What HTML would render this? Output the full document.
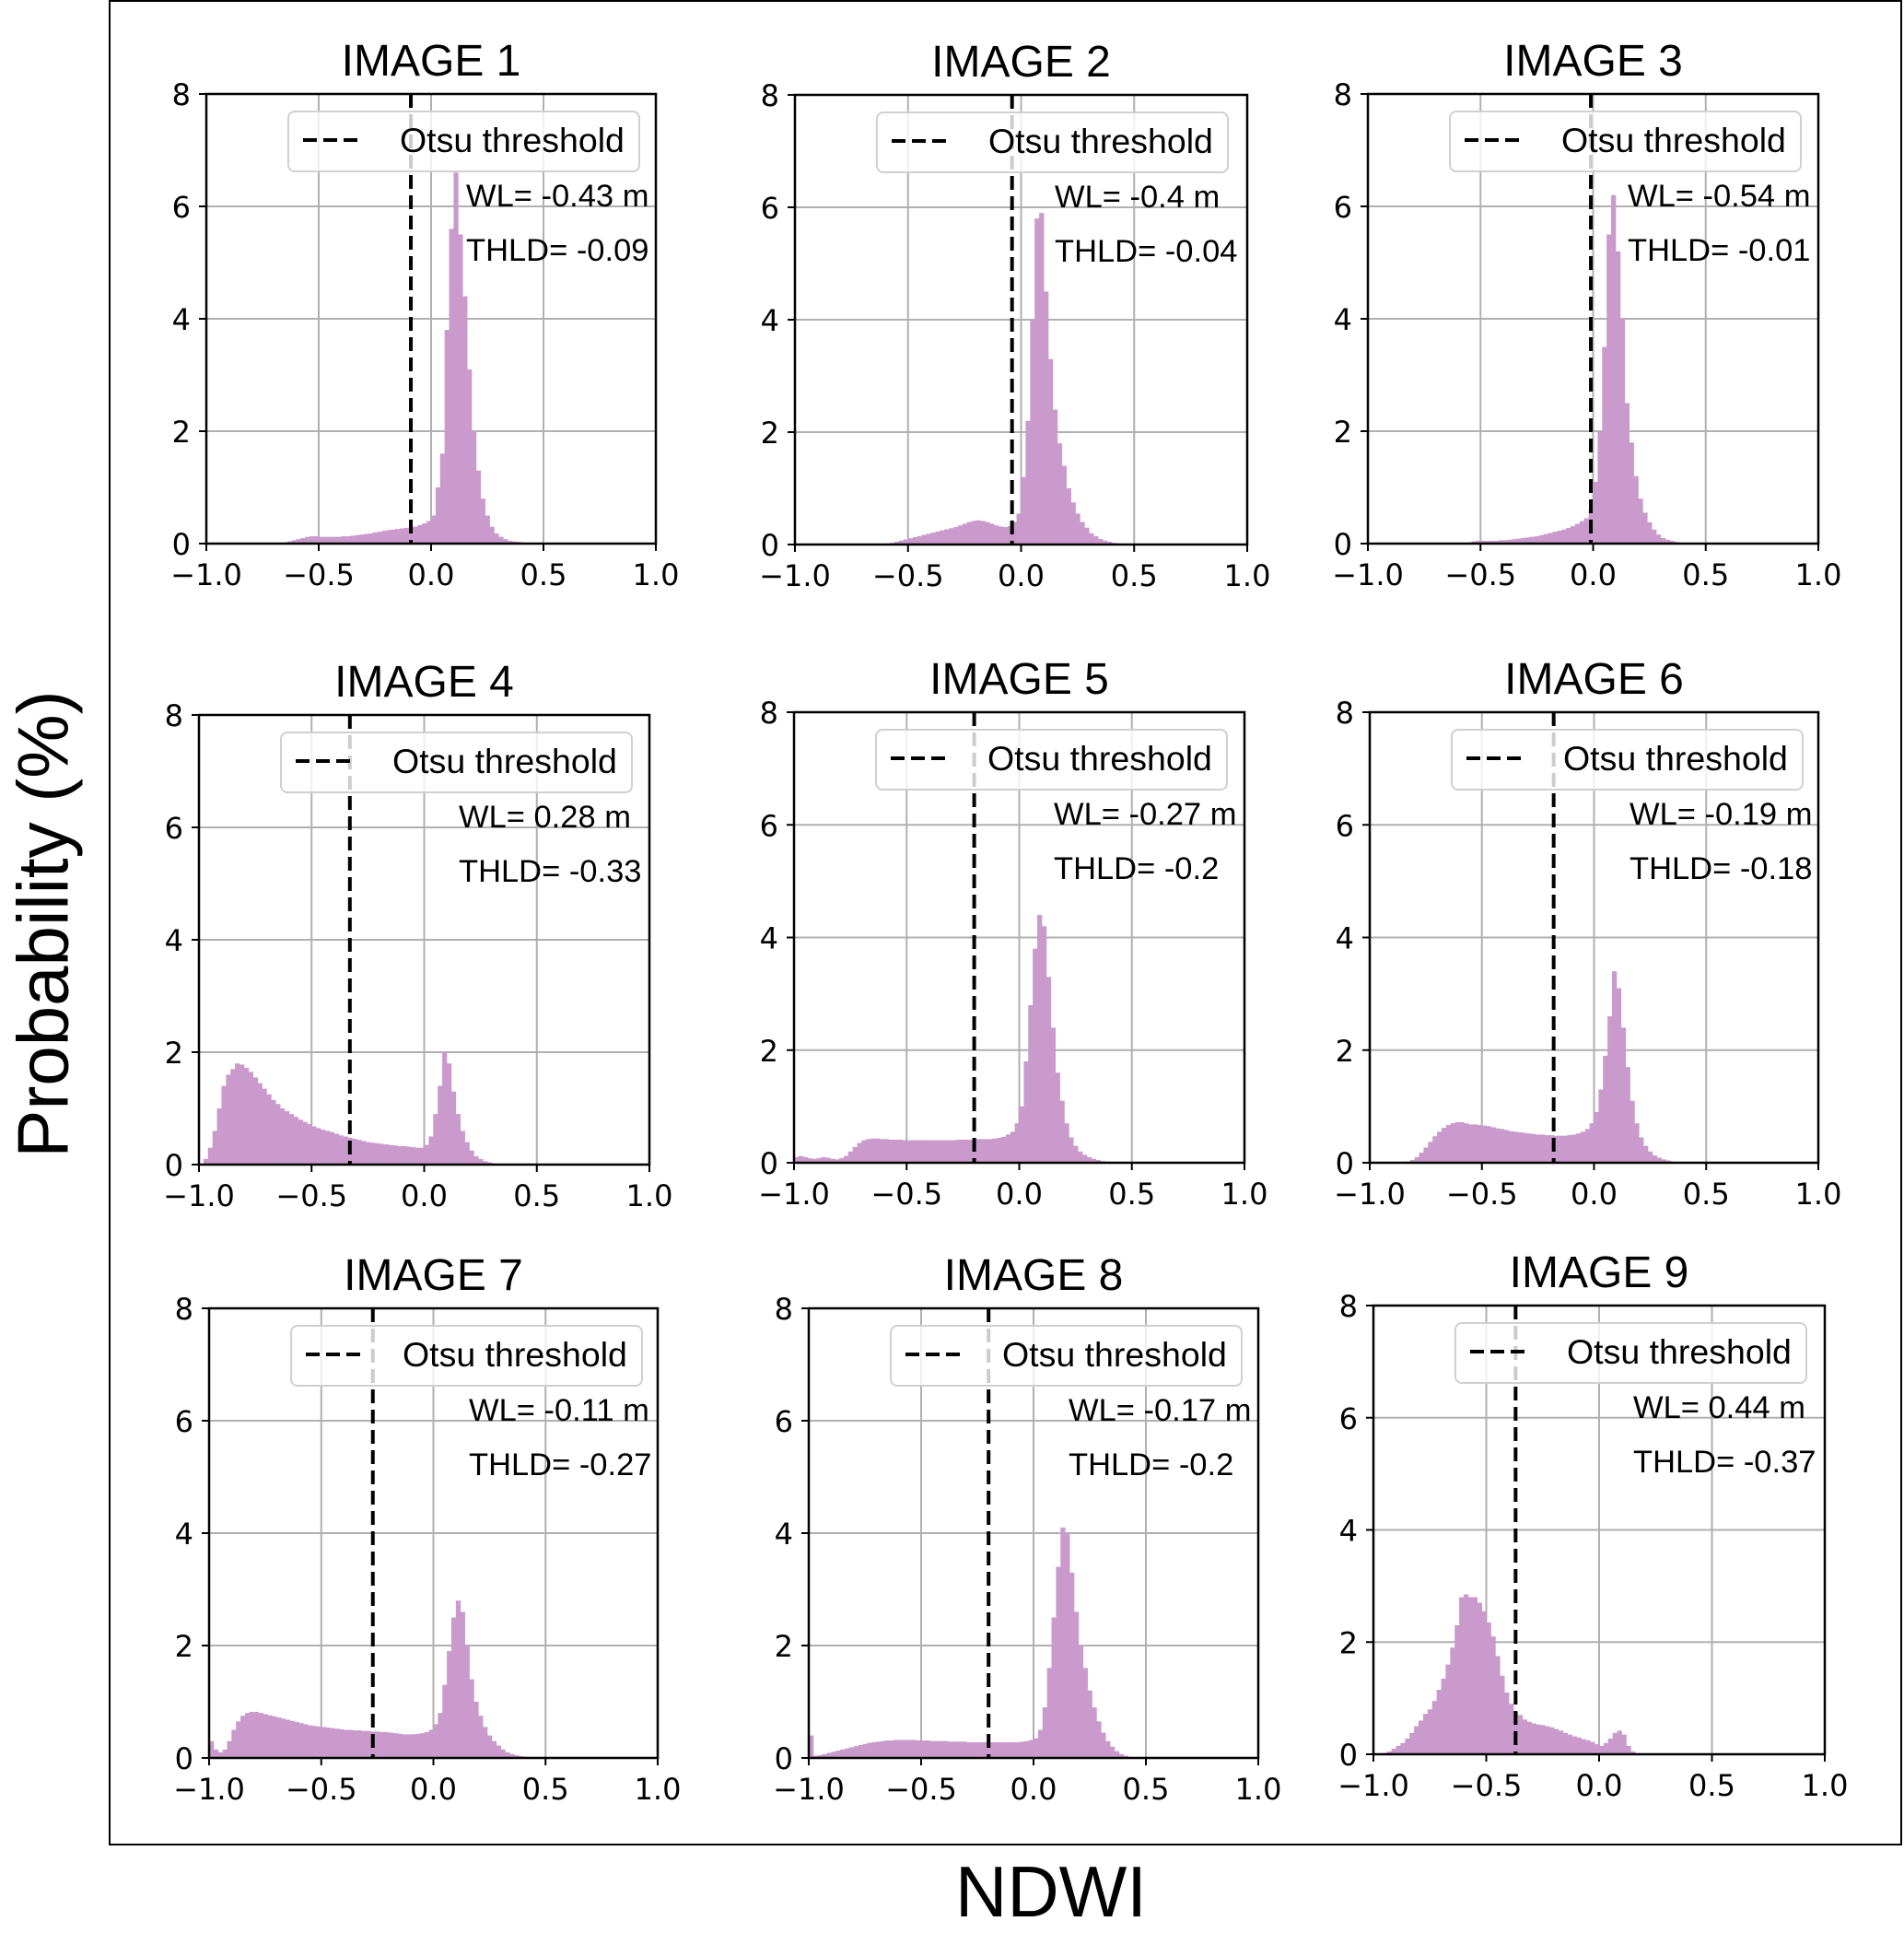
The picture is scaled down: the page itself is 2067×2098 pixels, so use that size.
<!DOCTYPE html>
<html><head><meta charset="utf-8">
<style>
html,body{margin:0;padding:0;background:#fff;}
svg{display:block;}
text{font-family:"Liberation Sans",sans-serif;}
.tick{font-family:"DejaVu Sans","Liberation Sans",sans-serif;font-size:32px;fill:#000;}
</style></head>
<body>
<svg id="fig" width="2067" height="2098" viewBox="0 0 2067 2098" xmlns="http://www.w3.org/2000/svg">
<rect x="119" y="1" width="1945" height="2001" fill="none" stroke="#000" stroke-width="2"/>
<text x="53" y="1003" font-size="78" text-anchor="middle" dominant-baseline="middle" transform="rotate(-90 53 1003)">Probability (%)</text>
<text x="1141" y="2080" font-size="78" text-anchor="middle">NDWI</text>
</svg>
<script>
// ---- data (bin width 0.02, values start at given NDWI) ----
const titles = ["IMAGE 1","IMAGE 2","IMAGE 3","IMAGE 4","IMAGE 5","IMAGE 6","IMAGE 7","IMAGE 8","IMAGE 9"];
const thresholds = [-0.09,-0.04,-0.01,-0.33,-0.2,-0.18,-0.27,-0.2,-0.37];
const wlLabels = ["WL= -0.43 m","WL= -0.4 m","WL= -0.54 m","WL= 0.28 m","WL= -0.27 m","WL= -0.19 m","WL= -0.11 m","WL= -0.17 m","WL= 0.44 m"];
const thldLabels = ["THLD= -0.09","THLD= -0.04","THLD= -0.01","THLD= -0.33","THLD= -0.2","THLD= -0.18","THLD= -0.27","THLD= -0.2","THLD= -0.37"];
const xTicks = [-1.0,-0.5,0.0,0.5,1.0];
const xTickLabels = ["\u22121.0","\u22120.5","0.0","0.5","1.0"];
const yTicks = [0,2,4,6,8];
const binStarts = [-0.66,-0.6,-0.56,-0.98,-1.0,-0.84,-1.0,-1.0,-0.96];
const p1Vals = [0.02,0.04,0.06,0.08,0.1,0.12,0.13,0.13,0.12,0.12,0.12,0.12,0.12,0.13,0.13,0.14,0.15,0.16,0.17,0.18,0.2,0.21,0.23,0.24,0.25,0.26,0.27,0.28,0.29,0.3,0.33,0.36,0.4,0.5,1.0,1.6,3.8,5.6,6.6,5.5,4.4,3.1,2.0,1.3,0.8,0.5,0.3,0.18,0.12,0.08,0.05,0.04,0.03,0.02,0.01];
const p2Vals = [0.02,0.03,0.05,0.07,0.09,0.11,0.13,0.15,0.17,0.19,0.21,0.23,0.25,0.27,0.29,0.31,0.34,0.37,0.4,0.42,0.43,0.42,0.4,0.37,0.34,0.32,0.31,0.33,0.4,0.55,1.2,2.2,4.0,5.8,5.9,4.5,3.3,2.4,1.8,1.4,1.0,0.75,0.55,0.4,0.3,0.2,0.15,0.1,0.07,0.05,0.03,0.02,0.01];
const p3Vals = [0.02,0.04,0.05,0.05,0.05,0.05,0.05,0.06,0.06,0.07,0.08,0.09,0.1,0.11,0.12,0.13,0.15,0.17,0.19,0.21,0.23,0.25,0.28,0.31,0.35,0.4,0.45,0.6,1.1,2.0,3.5,5.5,6.2,5.2,4.0,2.5,1.8,1.2,0.8,0.55,0.38,0.25,0.16,0.1,0.07,0.05,0.03,0.02];
const p4Vals = [0.1,0.3,0.6,1.0,1.4,1.6,1.7,1.8,1.78,1.72,1.65,1.55,1.45,1.35,1.25,1.15,1.08,1.0,0.95,0.9,0.85,0.8,0.76,0.72,0.68,0.65,0.62,0.6,0.58,0.55,0.52,0.5,0.48,0.46,0.44,0.42,0.4,0.39,0.38,0.37,0.36,0.35,0.34,0.33,0.33,0.32,0.31,0.3,0.3,0.35,0.5,0.9,1.4,2.0,1.8,1.3,0.9,0.6,0.4,0.25,0.15,0.1,0.06,0.04,0.02];
const p5Vals = [0.1,0.12,0.1,0.08,0.07,0.08,0.1,0.09,0.07,0.06,0.08,0.12,0.2,0.28,0.35,0.4,0.42,0.43,0.43,0.42,0.42,0.41,0.41,0.41,0.4,0.4,0.4,0.4,0.4,0.4,0.4,0.4,0.4,0.4,0.4,0.4,0.41,0.41,0.41,0.41,0.42,0.42,0.42,0.42,0.43,0.44,0.46,0.5,0.55,0.7,1.0,1.8,2.8,3.8,4.4,4.2,3.3,2.4,1.6,1.1,0.7,0.45,0.3,0.2,0.14,0.1,0.07,0.05,0.03,0.02,0.01];
const p6Vals = [0.02,0.05,0.1,0.18,0.27,0.37,0.47,0.55,0.62,0.67,0.7,0.72,0.72,0.7,0.68,0.68,0.67,0.66,0.65,0.63,0.61,0.6,0.58,0.56,0.55,0.54,0.53,0.52,0.51,0.5,0.5,0.49,0.49,0.48,0.48,0.48,0.49,0.5,0.52,0.55,0.6,0.7,0.9,1.3,1.9,2.6,3.4,3.1,2.4,1.7,1.1,0.7,0.45,0.3,0.2,0.13,0.09,0.06,0.04,0.02,0.01];
const p7Vals = [0.3,0.15,0.1,0.15,0.3,0.5,0.65,0.75,0.8,0.82,0.82,0.8,0.78,0.76,0.74,0.72,0.7,0.68,0.66,0.64,0.62,0.6,0.58,0.57,0.56,0.55,0.54,0.53,0.52,0.51,0.5,0.5,0.49,0.49,0.48,0.48,0.47,0.47,0.46,0.46,0.45,0.44,0.43,0.42,0.42,0.42,0.43,0.44,0.46,0.5,0.6,0.8,1.3,1.9,2.5,2.8,2.6,2.0,1.4,1.0,0.75,0.55,0.4,0.3,0.22,0.15,0.1,0.07,0.05,0.03,0.02,0.01];
const p8Vals = [0.4,0.04,0.05,0.07,0.09,0.11,0.13,0.15,0.17,0.19,0.21,0.23,0.25,0.27,0.28,0.29,0.3,0.31,0.31,0.32,0.32,0.32,0.32,0.32,0.31,0.31,0.31,0.3,0.3,0.3,0.3,0.29,0.29,0.29,0.29,0.28,0.28,0.28,0.28,0.28,0.28,0.28,0.28,0.28,0.28,0.28,0.28,0.29,0.3,0.32,0.35,0.5,0.9,1.6,2.5,3.4,4.1,4.0,3.3,2.6,2.0,1.6,1.2,0.9,0.65,0.45,0.3,0.2,0.12,0.07,0.04,0.02,0.01];
const p9Vals = [0.02,0.05,0.1,0.15,0.2,0.28,0.38,0.5,0.6,0.72,0.8,0.95,1.15,1.35,1.6,1.9,2.3,2.8,2.85,2.8,2.8,2.7,2.55,2.35,2.1,1.75,1.4,1.1,0.9,0.75,0.7,0.62,0.58,0.55,0.53,0.52,0.5,0.48,0.45,0.42,0.38,0.35,0.32,0.3,0.27,0.25,0.22,0.18,0.15,0.2,0.28,0.38,0.42,0.35,0.15,0.05];
const allVals = [p1Vals,p2Vals,p3Vals,p4Vals,p5Vals,p6Vals,p7Vals,p8Vals,p9Vals];
const binWidth = 0.02;

// ---- layout (pixel geometry, not data) ----
const boxes = [
  [224,102,712,590],[863,103,1354,591],[1485,102,1974,590],
  [216,776,705,1264],[862,773,1351,1262],[1487,773,1974,1262],
  [227,1420,714,1908],[878,1420,1366,1908],[1491,1417,1981,1904]
];
const NS = "http://www.w3.org/2000/svg";
const svg = document.getElementById("fig");
function mk(tag, attrs, parent){
  const e = document.createElementNS(NS, tag);
  for (const k in attrs) e.setAttribute(k, attrs[k]);
  (parent||svg).appendChild(e);
  return e;
}
boxes.forEach((b, i) => {
  const [L,T,R,B] = b;
  const xs = v => L + (v + 1) / 2 * (R - L);
  const ys = v => B - v / 8 * (B - T);
  const g = mk("g", {});
  
  
  xTicks.forEach(t => { const l = mk("line",{x1:xs(t),x2:xs(t),y1:T,y2:B,stroke:"#b0b0b0","stroke-width":2},g);
      });
  yTicks.forEach(t => { const l = mk("line",{x1:L,x2:R,y1:ys(t),y2:ys(t),stroke:"#b0b0b0","stroke-width":2},g);
      });
  const vals = allVals[i];
  vals.forEach((v, k) => {
    const x0 = binStarts[i] + k * binWidth;
    const r = mk("rect",{x:xs(x0),y:ys(v),width:xs(x0+binWidth)-xs(x0)+0.4,height:ys(0)-ys(v),fill:"#c99acb"},g);
    
    
  });
  const th = mk("line",{x1:xs(thresholds[i]),x2:xs(thresholds[i]),y1:T,y2:B,stroke:"#000","stroke-width":4,"stroke-dasharray":"15,7"},g);
  
  
  const sp = mk("rect",{x:L,y:T,width:R-L,height:B-T,fill:"none",stroke:"#000","stroke-width":2.5},g);
  
  
  xTicks.forEach((t, j) => {
    mk("line",{x1:xs(t),x2:xs(t),y1:B,y2:B+8,stroke:"#000","stroke-width":2},g);
    const tx = mk("text",{x:xs(t),y:B+45,"text-anchor":"middle",class:"tick"},g);
    tx.textContent = xTickLabels[j];
    
    
  });
  yTicks.forEach(t => {
    mk("line",{x1:L-8,x2:L,y1:ys(t),y2:ys(t),stroke:"#000","stroke-width":2},g);
    const tx = mk("text",{x:L-17,y:ys(t)+12,"text-anchor":"end",class:"tick"},g);
    tx.textContent = String(t);
    
    
  });
  const lg = mk("g",{},g);
  
  
  mk("rect",{x:L+89,y:T+19,width:381,height:65,rx:7,fill:"#fff","fill-opacity":0.8,stroke:"#d0d0d0","stroke-width":2},lg);
  mk("line",{x1:L+105,x2:L+171,y1:T+50,y2:T+50,stroke:"#000","stroke-width":4,"stroke-dasharray":"15,7"},lg);
  const lt = mk("text",{x:L+210,y:T+63,"font-size":37.5},lg);
  lt.textContent = "Otsu threshold";
  
  
  const wl = mk("text",{x:L+282,y:T+122,"font-size":34.5},g);
  wl.textContent = wlLabels[i];
  
  
  const tl = mk("text",{x:L+282,y:T+181,"font-size":34.5},g);
  tl.textContent = thldLabels[i];
  
  
  const tt = mk("text",{x:(L+R)/2,y:T-20,"font-size":48,"text-anchor":"middle"},g);
  tt.textContent = titles[i];
  
  
});
</script>
</body></html>
